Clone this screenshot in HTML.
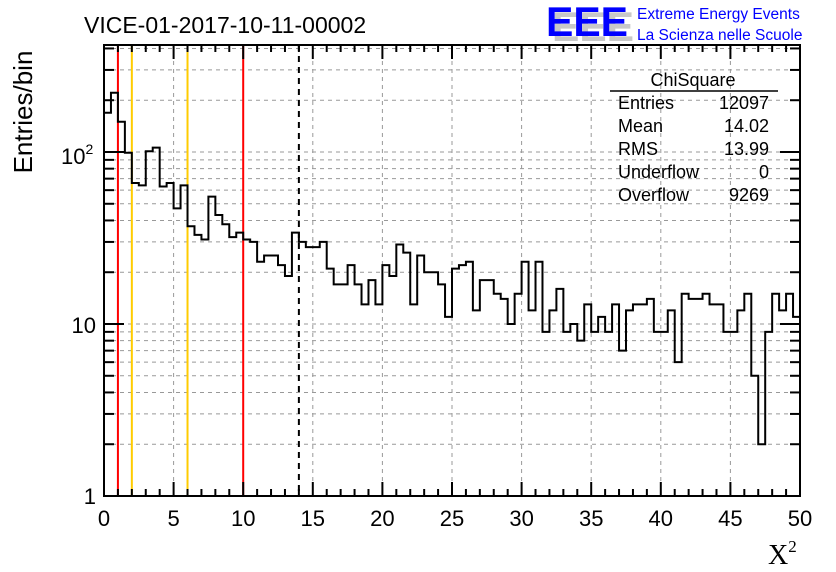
<!DOCTYPE html>
<html><head><meta charset="utf-8"><style>
body{margin:0;background:#fff}
svg{display:block;font-family:"Liberation Sans",sans-serif}
</style></head><body>
<svg id="c" width="836" height="572" viewBox="0 0 836 572">
<rect width="836" height="572" fill="#fff"/>
<g id="grid"></g>
<g id="vlines"></g>
<path id="hist" fill="none" stroke="#000" stroke-width="2"/>
<rect x="104" y="45" width="696" height="451" fill="none" stroke="#000" stroke-width="2"/>
<g id="ticks"></g>
<g id="labels" font-size="22"></g>
<text x="84" y="33" font-size="23">VICE-01-2017-10-11-00002</text>
<text transform="translate(32,112) rotate(-90)" text-anchor="middle" font-size="26">Entries/bin</text>
<text x="768" y="564" font-family="Liberation Serif,serif" font-size="28">X<tspan font-size="17" dy="-12">2</tspan></text>
<g>
<text x="552" y="41" font-size="42" font-weight="bold" fill="#c8c8c8" textLength="82" lengthAdjust="spacingAndGlyphs">EEE</text>
<text x="546" y="36" font-size="42" font-weight="bold" fill="#0000ff" textLength="82" lengthAdjust="spacingAndGlyphs">EEE</text>
<text x="637" y="19" font-size="15.5" fill="#0000ff">Extreme Energy Events</text>
<text x="637" y="40" font-size="15.5" fill="#0000ff">La Scienza nelle Scuole</text>
</g>
<g font-size="18">
<text x="693" y="86" text-anchor="middle">ChiSquare</text>
<line x1="610" y1="91" x2="778" y2="91" stroke="#000" stroke-width="1.5"/>
<g id="stats"></g>
</g>
</svg>
<script>
const binValues=[169,221,150,99,66,64,101,106,63,66,47,64,37,33,31,55,43,38,32,34,31,30,23,25,25,22,19,34,30,28,28,30,21,17,17,22,17,13,18,13,22,19,29,26,13,25,20,20,17,11,21,22,23,12,18,18,15,14,10,15,23,12,23,9,12,16,9,10,8,13,9,11,9,13,7,12,13,13,14,9,9,12,6,15,14,14,15,13,13,9,9,12,15,5,2,9,15,12,15,11];
const xTickValues=[0,5,10,15,20,25,30,35,40,45,50];
const statNames=["Entries","Mean","RMS","Underflow","Overflow"];
const statValues=["12097","14.02","13.99","0","9269"];
const refLineX=[1,2,6,10,14];
const refLineColors=["#ff0000","#ffcc00","#ffcc00","#ff0000","#000"];
const binWidth=0.5;
const NS="http://www.w3.org/2000/svg";
const X0=104,X1=800,Y0=496,YT=45;
const sx=v=>X0+(v/50)*(X1-X0);
const sy=v=>Y0-172*Math.log10(v);
function mk(tag,attrs,parent){const e=document.createElementNS(NS,tag);for(const k in attrs)e.setAttribute(k,attrs[k]);parent.appendChild(e);return e;}
const grid=document.getElementById('grid'),ticks=document.getElementById('ticks'),labels=document.getElementById('labels');
for(const v of xTickValues){if(v>0&&v<50){const l=mk('line',{x1:sx(v),x2:sx(v),y1:YT,y2:Y0,stroke:'#999','stroke-dasharray':'4,4','stroke-width':1},grid);

}}
for(let d=0;d<3;d++)for(let m=1;m<10;m++){const v=m*Math.pow(10,d);const y=sy(v);if(y<YT)continue;
if(v>1){const g=mk('line',{x1:X0,x2:X1,y1:y,y2:y,stroke:'#999','stroke-dasharray':'4,4','stroke-width':1},grid);

}
const len=m===1?20:10;
mk('line',{x1:X0,x2:X0+len,y1:y,y2:y,stroke:'#000','stroke-width':2},ticks);
mk('line',{x1:X1,x2:X1-len,y1:y,y2:y,stroke:'#000','stroke-width':2},ticks);}
for(let v=0;v<=50;v++){const len=v%5===0?14:7;const x=sx(v);
mk('line',{x1:x,x2:x,y1:Y0,y2:Y0-len,stroke:'#000','stroke-width':2},ticks);
mk('line',{x1:x,x2:x,y1:YT,y2:YT+len,stroke:'#000','stroke-width':2},ticks);}
for(const v of xTickValues){const t=mk('text',{x:sx(v),y:526,'text-anchor':'middle'},labels);t.textContent=v;

}
[[1,'1',96,504],[10,'10',96,333]].forEach(([v,s,x,y])=>{const t=mk('text',{x:x,y:y,'text-anchor':'end'},labels);t.textContent=s;

});
const t2=mk('text',{x:61,y:164},labels);t2.innerHTML='10<tspan font-size="14" dy="-10">2</tspan>';


const vl=document.getElementById('vlines');
refLineX.forEach((v,i)=>{const a={x1:sx(v),x2:sx(v),y1:YT,y2:Y0,stroke:refLineColors[i],'stroke-width':2};if(i===4)a['stroke-dasharray']='6,5';
const l=mk('line',a,vl);

});
let d='M'+X0+','+Y0;
binValues.forEach((v,i)=>{const y=sy(Math.max(v,1));d+=' L'+sx(i*binWidth)+','+y+' L'+sx((i+1)*binWidth)+','+y;});
d+=' L'+X1+','+Y0;
document.getElementById('hist').setAttribute('d',d);
const st=document.getElementById('stats');
statNames.forEach((n,i)=>{const y=109+i*23;
const a=mk('text',{x:618,y:y},st);a.textContent=n;


const b=mk('text',{x:769,y:y,'text-anchor':'end'},st);b.textContent=statValues[i];

});
</script>
</body></html>
